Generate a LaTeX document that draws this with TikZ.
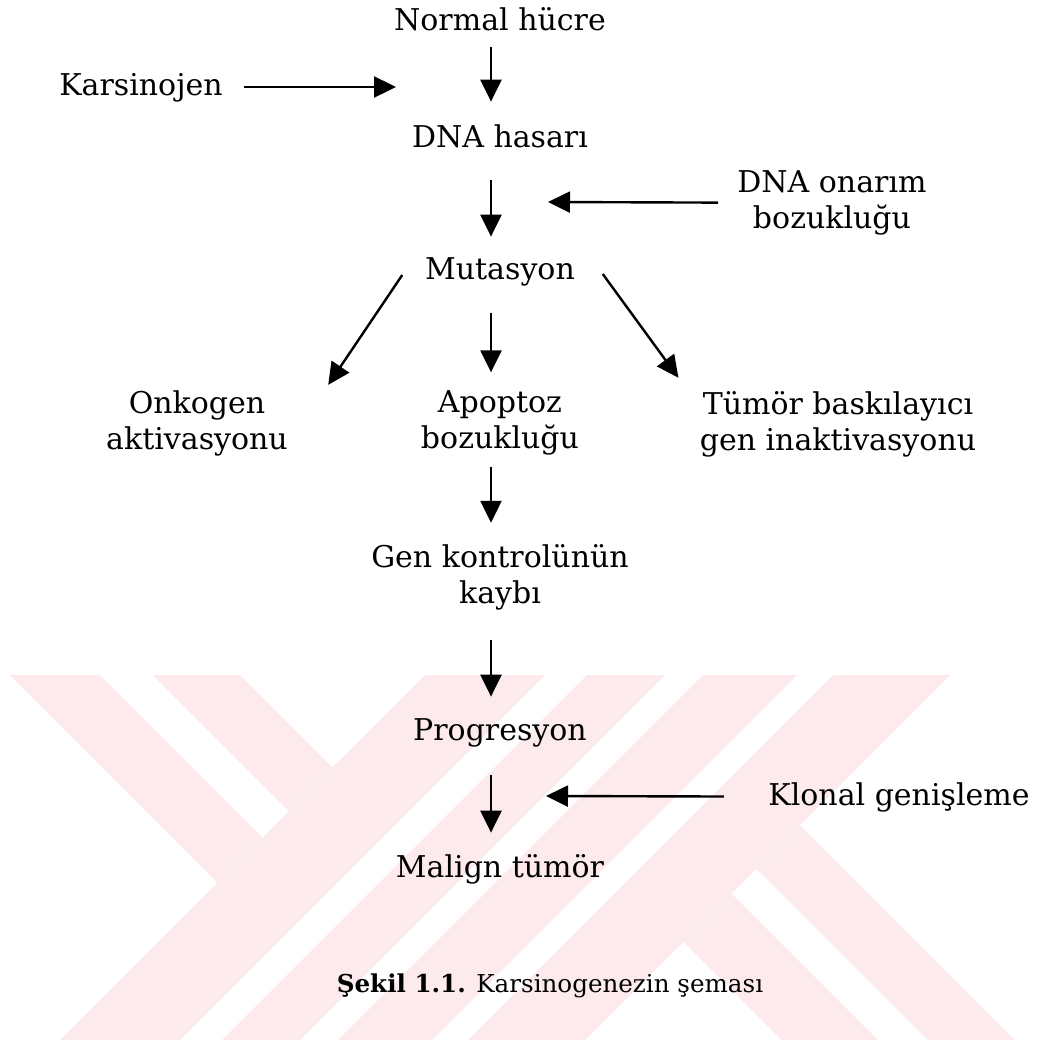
\documentclass[tikz,border=0pt]{standalone}
\usepackage{fontspec}
\setmainfont{DejaVu Serif}
\usetikzlibrary{arrows.meta}

\definecolor{wmpink}{RGB}{252,234,237}
\tikzset{
    lbl/.style={font=\fontsize{15}{18}\selectfont, inner sep=0pt, text height=11.5pt, text depth=3.5pt},
    lbltwo/.style={font=\fontsize{15}{18}\selectfont, inner sep=0pt, align=center},
    arr/.style={-{Triangle[length=11pt,width=10.5pt]}, line width=1.2pt}
}

\begin{document}
\begin{tikzpicture}[x=0.5pt, y=-0.5pt]
    \fill[white] (0,0) rectangle (1038,1040);
    \useasboundingbox (0,0) rectangle (1038,1040);

    \begin{scope}
        \clip (0,675) rectangle (1038,1040);
        \fill[wmpink] (25,600) -- (-65,600) -- (217.5,882.5) -- (262.5,837.5) -- cycle;
        \fill[wmpink] (165,600) -- (78,600) -- (289,811) -- (332.5,767.5) -- cycle;
        \foreach \a/\b in {1100/1220, 1262/1340, 1378/1472, 1508/1625}
            \fill[wmpink] (\a-600,600) -- (\b-600,600) -- (\b-1100,1100) -- (\a-1100,1100) -- cycle;
        \fill[wmpink] (683.5,941.5) -- (731.5,893.5) -- (938,1100) -- (842,1100) -- cycle;
        \fill[wmpink] (756.5,868.5) -- (800,825) -- (1075,1100) -- (988,1100) -- cycle;
    \end{scope}

    \node[lbl] (nh) at (500,22) {Normal hücre};
    \node[lbl] (kars) at (141,87) {Karsinojen};
    \node[lbl] (dna) at (500,139) {DNA hasarı};
    \node[lbltwo] (onar) at (832,203) {DNA onarım\\bozukluğu};
    \node[lbl] (mut) at (500,271) {Mutasyon};
    \node[lbltwo] (onko) at (197,423) {Onkogen\\aktivasyonu};
    \node[lbltwo] (apop) at (500,423) {Apoptoz\\bozukluğu};
    \node[lbltwo] (tsg) at (838,424) {Tümör baskılayıcı\\gen inaktivasyonu};
    \node[lbltwo] (gen) at (500,577) {Gen kontrolünün\\kaybı};
    \node[lbl] (prog) at (500,732) {Progresyon};
    \node[lbl] (mal) at (500,869) {Malign tümör};
    \node[lbl] (klon) at (899,797) {Klonal genişleme};
    \node[font=\fontsize{12.3}{14}\selectfont, inner sep=0pt] (cap) at (550,986) {\textbf{Şekil 1.1.} Karsinogenezin şeması};

    \coordinate (kin) at (396,87);
    \coordinate (oin) at (548,202);
    \coordinate (cin) at (546,796);

    \path[arr]
    ([xshift=-4.5pt]nh.south) edge[shorten <=5pt, shorten >=11pt] ([xshift=-4.5pt]dna.north)
    (kars) edge[shorten <=10.5pt] (kin)
    ([xshift=-4.5pt]dna.south) edge[shorten <=13pt, shorten >=9.5pt] ([xshift=-4.5pt]mut.north)
    (onar) edge[shorten <=9.5pt] (oin)
    ([xshift=-11.25pt, yshift=-2pt]mut.west) edge ([xshift=20pt, yshift=2.5pt]onko.north east)
    ([xshift=-4.5pt]mut.south) edge[shorten <=13.5pt, shorten >=9pt] ([xshift=-4.5pt]apop.north)
    ([xshift=13.75pt, yshift=-1.5pt]mut.east) edge ([xshift=-10.5pt, yshift=6.5pt]tsg.north west)
    ([xshift=-4.5pt]apop.south) edge[shorten <=5.5pt, shorten >=10.5pt] ([xshift=-4.5pt]gen.north)
    ([xshift=-4.5pt]gen.south) edge[shorten <=15pt, shorten >=10pt] ([xshift=-4.5pt]prog.north)
    ([xshift=-4.5pt]prog.south) edge[shorten <=14pt, shorten >=10.5pt] ([xshift=-4.5pt]mal.north)
    (klon) edge[shorten <=22pt] (cin);
\end{tikzpicture}
\end{document}
